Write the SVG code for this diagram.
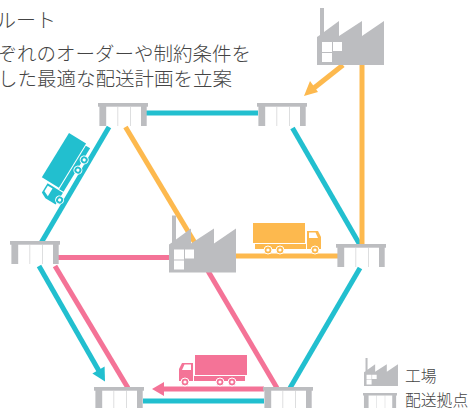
<svg xmlns="http://www.w3.org/2000/svg" xmlns:xlink="http://www.w3.org/1999/xlink" width="470" height="408" viewBox="0 0 470 408">
<style>
text{font-family:"Noto Sans CJK JP","Noto Sans",sans-serif;fill:#444;font-weight:300}
.t{font-size:19.500px}
.h{font-size:20px}
.l{font-size:15.800px}
.c{fill:none;stroke-width:5}
.teal{stroke:#22bfcf}.orange{stroke:#fdb94e}.pink{stroke:#f47397}
</style>
<defs>
<symbol id="depot" overflow="visible" viewBox="0 0 50 23" width="50" height="23">
<rect width="50" height="3.700" fill="#bcbdc0"/>
<rect x="1.400" y="3" width="6.800" height="20" fill="#bcbdc0"/>
<rect x="43" y="3" width="5.700" height="20" fill="#bcbdc0"/>
<rect x="19.500" y="3" width="0.700" height="20" fill="#cfd0d2"/>
<rect x="32" y="3" width="0.700" height="20" fill="#cfd0d2"/>
</symbol>
<symbol id="factory" overflow="visible" viewBox="0 0 67 57" width="67" height="57">
<path d="M3,0H7V24L22,13V28L45,13V28L67,13V57H0V29L3,27Z" fill="#bcbdc0"/>
<path d="M5,34H15V44H5ZM16,34H25V43H16ZM5,45H15V54H5Z" fill="#fff"/>
</symbol>
<g id="truck">
<path d="M0,0H-52V20H0Z"/>
<path d="M-2,21H-53V26H-2Z"/>
<path d="M-54,8H-65L-68,14V26H-54Z"/>
<path d="M-56,9.500H-62.500L-65,15H-56Z" fill="#fff"/>
<g stroke="#fff" stroke-width="1">
<circle cx="-62" cy="27" r="4"/><circle cx="-27" cy="27" r="4"/><circle cx="-15" cy="27" r="4"/>
</g>
<g fill="#fff">
<circle cx="-62" cy="27" r="1.600"/><circle cx="-27" cy="27" r="1.600"/><circle cx="-15" cy="27" r="1.600"/>
</g>
</g>
</defs>

<g id="title">
<text class="h" x="56" y="28" text-anchor="end">ルート</text>
<text class="t" x="251" y="61" text-anchor="end">ぞれのオーダーや制約条件を</text>
<text class="t" x="232" y="86" text-anchor="end">した最適な配送計画を立案</text>
</g>

<g id="connectors">
<path class="c teal" d="M146,113H258"/>
<path class="c teal" d="M292.500,128L360,245"/>
<path class="c teal" d="M360,268L290,388"/>
<path class="c teal" d="M143,401H264"/>
<path class="c teal" d="M109,127L41,243"/>
<path class="c teal" d="M39,266L99,371"/>
<path fill="#22bfcf" d="M105,381.500L92.400,373.500L104.600,366.500Z"/>
<path class="c orange" d="M125.500,127L195,243"/>
<path class="c orange" d="M236,256H338"/>
<path class="c orange" d="M362,64V245"/>
<path class="c orange" d="M343,65L314,88"/>
<path fill="#fdb94e" d="M304,96L310,81L318,92Z"/>
<path class="c pink" d="M58,257.500H170"/>
<path class="c pink" d="M55,266L128,388"/>
<path class="c pink" d="M208,271L277,388"/>
<path class="c pink" d="M163,389H264"/>
<path fill="#f47397" d="M152,389L164,382V396Z"/>
</g>

<g id="depot-tl"><use xlink:href="#depot" x="98" y="103"/></g>
<g id="depot-tr"><use xlink:href="#depot" x="257" y="103"/></g>
<g id="depot-l"><use xlink:href="#depot" x="10" y="241"/></g>
<g id="depot-r"><use xlink:href="#depot" x="336" y="244"/></g>
<g id="depot-bl"><use xlink:href="#depot" x="94" y="387"/></g>
<g id="depot-br"><use xlink:href="#depot" x="263" y="387"/></g>

<g id="factory-top"><use xlink:href="#factory" x="317" y="8"/></g>
<g id="factory-center"><use xlink:href="#factory" x="169" y="215.500"/></g>

<g id="truck-teal" fill="#22bfcf"><use xlink:href="#truck" transform="translate(69,133) rotate(-58.500)"/></g>
<g id="truck-orange" fill="#fdb94e"><use xlink:href="#truck" transform="translate(253,223) scale(-1,1)"/></g>
<g id="truck-pink" fill="#f47397"><use xlink:href="#truck" transform="translate(247,355)"/></g>

<g id="legend-factory">
<use xlink:href="#factory" transform="translate(364,358) scale(.507,.49)"/>
<text class="l" x="405" y="382">工場</text>
</g>
<g id="legend-depot">
<use xlink:href="#depot" transform="translate(363,393) scale(.68,.68)"/>
<text class="l" x="405" y="406">配送拠点</text>
</g>
</svg>
